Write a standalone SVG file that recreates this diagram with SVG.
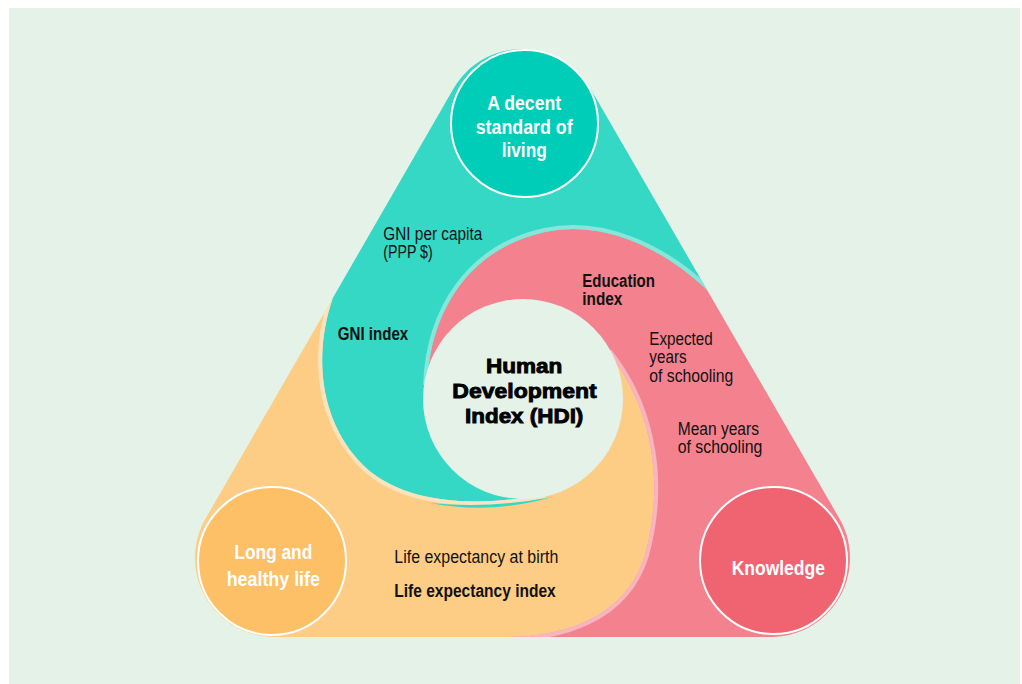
<svg xmlns="http://www.w3.org/2000/svg" width="1022" height="684" viewBox="0 0 1022 684">
<style>
.lbl{font-family:"Liberation Sans Narrow","Liberation Sans",Arial,sans-serif;font-size:17.5px;fill:#111}
.b{font-weight:bold}
.wt{font-family:"Liberation Sans Narrow","Liberation Sans",Arial,sans-serif;font-size:20px;font-weight:bold;fill:#fff}
.hdi{font-family:"Liberation Sans",Arial,sans-serif;font-size:21px;font-weight:bold;fill:#000;stroke:#000;stroke-width:0.9}
.vc{stroke:#fff;stroke-width:2}
.fr{fill:none;stroke-width:8}
</style>
<defs>
<path id="rTeal" d="M 332.8 298 L 453.6 88.5 A 79 79 0 0 1 590.4 88.5 L 707.1 290 C 660 245 600 220 545 232 C 470 248 430 310 427 385 L 545 494 C 478 508 400 505 360 462 C 312 410 318 340 332.8 298 Z"/>
<path id="rPink" d="M 707.1 290 L 839.4 518.5 A 79 79 0 0 1 771 637 L 505 637 C 560 637 625 620 645 555 C 668 470 645 398 608 352 L 427 385 C 430 310 470 248 545 232 C 600 220 660 245 707.1 290 Z"/>
<path id="rYellow" d="M 205.6 518.5 L 332.8 298 C 318 340 312 410 360 462 C 400 505 478 508 545 494 L 608 352 C 645 398 668 470 645 555 C 625 620 560 637 505 637 L 274 637 A 79 79 0 0 1 205.6 518.5 Z"/>
<path id="cA" d="M 332.8 298 C 318 340 312 410 360 462 C 400 505 478 508 545 494"/>
<path id="cB" d="M 707.1 290 C 660 245 600 220 545 232 C 470 248 430 310 427 385"/>
<path id="cC" d="M 608 352 C 645 398 668 470 645 555 C 625 620 560 637 505 637"/>
<clipPath id="clipY"><use href="#rYellow"/></clipPath>
<clipPath id="clipT"><use href="#rTeal"/></clipPath>
<clipPath id="clipP"><use href="#rPink"/></clipPath>
</defs>

<rect x="0" y="0" width="1022" height="684" fill="#ffffff"/>
<rect x="9" y="8" width="1011" height="676" fill="#e5f2e8"/>

<g id="swirls">
  <use href="#rYellow" fill="#fecd85"/>
  <use href="#rPink" fill="#f4828e"/>
  <use href="#rTeal" fill="#35d7c5"/>
  <use href="#cA" class="fr" stroke="#fde3bd" clip-path="url(#clipY)"/>
  <path d="M 430 503 Q 490 515 552 497 Q 490 509 430 503 Z" fill="#35d7c5" clip-path="url(#clipY)"/>
  <use href="#cB" class="fr" stroke="#86e6da" clip-path="url(#clipT)"/>
  <use href="#cC" class="fr" stroke="#f8b5be" clip-path="url(#clipP)"/>
</g>

<g id="connectors"></g>

<g id="node-living">
  <circle class="vc" cx="524.5" cy="123.5" r="73.5" fill="#00cdb7"/>
  <text class="wt" x="524.2" y="110" text-anchor="middle" textLength="73.7" lengthAdjust="spacingAndGlyphs">A decent</text>
  <text class="wt" x="524.2" y="133.5" text-anchor="middle" textLength="97" lengthAdjust="spacingAndGlyphs">standard of</text>
  <text class="wt" x="524.2" y="157" text-anchor="middle" textLength="45" lengthAdjust="spacingAndGlyphs">living</text>
</g>

<g id="node-health">
  <circle class="vc" cx="272" cy="561" r="74" fill="#fdc067"/>
  <text class="wt" x="273.3" y="559.3" text-anchor="middle" textLength="78" lengthAdjust="spacingAndGlyphs">Long and</text>
  <text class="wt" x="273.3" y="585.7" text-anchor="middle" textLength="93.3" lengthAdjust="spacingAndGlyphs">healthy life</text>
</g>

<g id="node-knowledge">
  <circle class="vc" cx="773.5" cy="560.5" r="73.5" fill="#f06472"/>
  <text class="wt" x="778.3" y="574.5" text-anchor="middle" textLength="93.3" lengthAdjust="spacingAndGlyphs">Knowledge</text>
</g>

<g id="node-hdi">
  <circle cx="523" cy="399" r="100" fill="#e5f2e8"/>
  <text class="hdi" x="524.2" y="373.3" text-anchor="middle" textLength="76.3" lengthAdjust="spacingAndGlyphs">Human</text>
  <text class="hdi" x="524.5" y="398.3" text-anchor="middle" textLength="144.4" lengthAdjust="spacingAndGlyphs">Development</text>
  <text class="hdi" x="524.2" y="422.5" text-anchor="middle" textLength="118.3" lengthAdjust="spacingAndGlyphs">Index (HDI)</text>
</g>

<g id="labels">
  <text class="lbl" x="383.3" y="240" textLength="99" lengthAdjust="spacingAndGlyphs">GNI per capita</text>
  <text class="lbl" x="383.3" y="258.3" textLength="49.4" lengthAdjust="spacingAndGlyphs">(PPP $)</text>
  <text class="lbl b" x="337.7" y="340" textLength="70.6" lengthAdjust="spacingAndGlyphs">GNI index</text>
  <text class="lbl b" x="582.3" y="286.7" textLength="72.7" lengthAdjust="spacingAndGlyphs">Education</text>
  <text class="lbl b" x="582.3" y="305" textLength="40" lengthAdjust="spacingAndGlyphs">index</text>
  <text class="lbl" x="649.3" y="345" textLength="63.4" lengthAdjust="spacingAndGlyphs">Expected</text>
  <text class="lbl" x="649.3" y="363.3" textLength="37.3" lengthAdjust="spacingAndGlyphs">years</text>
  <text class="lbl" x="649.3" y="381.7" textLength="84" lengthAdjust="spacingAndGlyphs">of schooling</text>
  <text class="lbl" x="677.7" y="435" textLength="81.3" lengthAdjust="spacingAndGlyphs">Mean years</text>
  <text class="lbl" x="677.7" y="453.3" textLength="84.6" lengthAdjust="spacingAndGlyphs">of schooling</text>
  <text class="lbl" x="394.3" y="562.7" textLength="164" lengthAdjust="spacingAndGlyphs">Life expectancy at birth</text>
  <text class="lbl b" x="394.3" y="596.7" textLength="161.4" lengthAdjust="spacingAndGlyphs">Life expectancy index</text>
</g>
</svg>
